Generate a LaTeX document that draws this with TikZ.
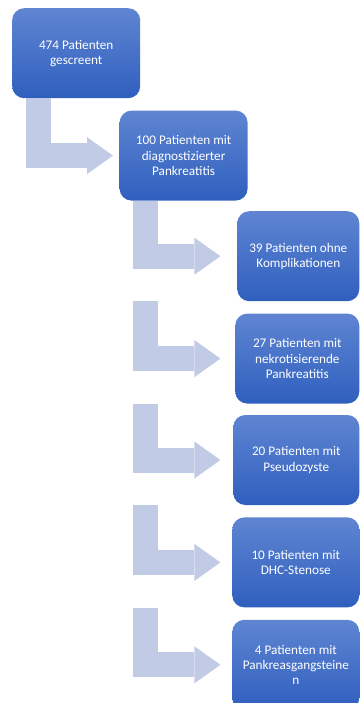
\documentclass[tikz,border=0pt]{standalone}
\usepackage{fontspec}
\setmainfont{Carlito}
\usepackage{tikz}
\usetikzlibrary{arrows.meta, positioning, calc}
\definecolor{boxtop}{RGB}{95,133,210}
\definecolor{boxbottom}{RGB}{47,95,190}
\definecolor{bendblue}{RGB}{194,203,229}

\begin{document}
\begin{tikzpicture}[x=1pt, y=-1pt,
    box/.style={rectangle, rounded corners=12pt, top color=boxtop, bottom color=boxbottom,
      text=white, align=center, minimum height=90pt, inner sep=0pt,
      font=\fontsize{13.2}{15.2}\selectfont},
    bent/.style={draw=bendblue, line width=25pt, line join=miter,
      -{Triangle[length=26pt, width=37pt, line width=0pt, fill=bendblue]}}]
    \useasboundingbox (0,0) rectangle (360,703);
    \clip (0,0) rectangle (360,703);
    \node[box, minimum width=128pt, anchor=north west] (b1) at (12,8) {474 Patienten\\gescreent};
    \node[box, minimum width=128pt, below right=12pt and -21pt of b1] (b2) {100 Patienten mit\\diagnostizierter\\Pankreatitis};
    \node[box, minimum width=122pt, anchor=north east] (b3) at (359.5,211) {39 Patienten ohne\\Komplikationen};
    \node[box, minimum width=124pt, below=12pt of b3.south east, anchor=north east] (b4) {27 Patienten mit\\nekrotisierende\\Pankreatitis};
    \node[box, minimum width=126pt, below=11pt of b4.south east, anchor=north east] (b5) {20 Patienten mit\\Pseudozyste};
    \node[box, minimum width=127pt, below=12pt of b5.south east, anchor=north east] (b6) {10 Patienten mit\\DHC-Stenose};
    \node[box, minimum width=127pt, below=12pt of b6.south east, anchor=north east] (b7) {4 Patienten mit\\Pankreasgangsteine\\n};

    \draw[bent] ($(b1.south west)+(26.5,0)$) |- ($(b1.west |- b2.west)+(101,0)$);
    \foreach \from/\to in {b2/b3, b3/b4, b4/b5, b5/b6, b6/b7}
        \draw[bent] ($(b2.west |- \from.south)+(26.5,0)$) |- ($(b2.west |- \to.west)+(101,0)$);
\end{tikzpicture}
\end{document}
